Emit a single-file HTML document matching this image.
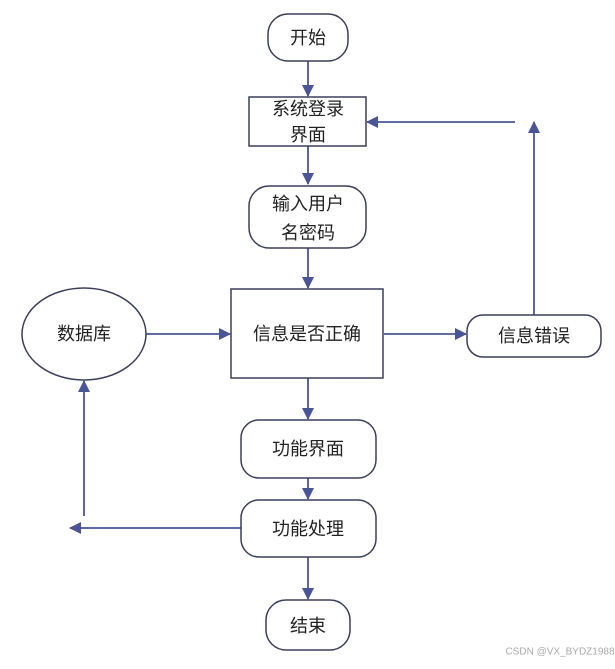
<!DOCTYPE html>
<html><head><meta charset="utf-8"><style>
html,body{margin:0;padding:0;background:#fff;}
svg text{font-family:"Liberation Sans","Noto Sans CJK SC",sans-serif;font-size:18px;fill:#222;text-anchor:middle;dominant-baseline:central;}
</style></head><body>
<svg width="615" height="664" viewBox="0 0 615 664" xmlns="http://www.w3.org/2000/svg">
<defs><marker id="a" markerWidth="12" markerHeight="12" refX="11" refY="6" orient="auto" markerUnits="userSpaceOnUse"><path d="M0,0 L12,6 L0,12 z" fill="#4a5598"/></marker></defs>
<g fill="none" stroke="#4a5598" stroke-width="1.8">
<line x1="308" y1="61" x2="308" y2="96" marker-end="url(#a)"/>
<line x1="308" y1="146" x2="308" y2="184" marker-end="url(#a)"/>
<line x1="308" y1="248" x2="308" y2="288" marker-end="url(#a)"/>
<line x1="146" y1="334" x2="230" y2="334" marker-end="url(#a)"/>
<line x1="384" y1="334" x2="466" y2="334" marker-end="url(#a)"/>
<line x1="534" y1="315" x2="534" y2="122" marker-end="url(#a)"/>
<line x1="515" y1="122" x2="367" y2="122" marker-end="url(#a)"/>
<line x1="308" y1="378" x2="308" y2="419" marker-end="url(#a)"/>
<line x1="308" y1="478" x2="308" y2="499" marker-end="url(#a)"/>
<line x1="308" y1="557" x2="308" y2="599" marker-end="url(#a)"/>
<line x1="241" y1="528" x2="70" y2="528" marker-end="url(#a)"/>
<line x1="84" y1="516" x2="84" y2="381" marker-end="url(#a)"/>
</g>
<g fill="#fff" stroke="#3a3f5c" stroke-width="1.5">
<rect x="268" y="14" width="80" height="47" rx="20"/>
<rect x="249" y="97" width="117" height="49"/>
<rect x="249" y="186" width="117" height="62" rx="20"/>
<rect x="231" y="289" width="152" height="89"/>
<ellipse cx="84" cy="334" rx="62" ry="46"/>
<rect x="467" y="315" width="134" height="42" rx="16"/>
<rect x="241" y="420" width="135" height="58" rx="18"/>
<rect x="241" y="500" width="135" height="57" rx="18"/>
<rect x="266" y="600" width="84" height="50" rx="20"/>
</g>
<text x="308" y="38">开始</text>
<text x="308" y="109">系统登录</text>
<text x="308" y="135">界面</text>
<text x="308" y="204">输入用户</text>
<text x="308" y="233">名密码</text>
<text x="307" y="334">信息是否正确</text>
<text x="84" y="334">数据库</text>
<text x="534" y="336">信息错误</text>
<text x="308" y="449">功能界面</text>
<text x="308" y="529">功能处理</text>
<text x="308" y="626">结束</text>
<text x="560" y="652" style="font-size:10px;fill:#aaa">CSDN @VX_BYDZ1988</text>
</svg>
</body></html>
